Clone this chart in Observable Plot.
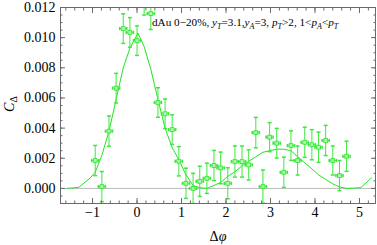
<!DOCTYPE html>
<html><head><meta charset="utf-8">
<script src="https://cdn.jsdelivr.net/npm/d3@7"></script>
<script src="https://cdn.jsdelivr.net/npm/@observablehq/plot@0.6"></script>
<style>body{margin:0;background:#fff}#chart{width:377px;height:245px}#chart svg text{font-family:"Liberation Serif",serif}</style>
</head><body><div id="chart"></div>
<script>
// data points: Δφ, C_Δ, error
const dphi = [-0.94,-0.79,-0.63,-0.47,-0.31,-0.16,0.00,0.16,0.31,0.47,0.63,0.79,0.94,1.10,1.26,1.41,1.57,1.73,1.88,2.04,2.20,2.36,2.51,2.67,2.83,2.98,3.14,3.30,3.46,3.61,3.77,3.93,4.08,4.24,4.40,4.55,4.71];
const cDelta = [0.00185,0.00012,0.0038,0.00665,0.0106,0.01035,0.0098,0.0125,0.0116,0.0057,0.00495,0.0039,0.0018,0.00034,0.0000,0.00047,0.00067,0.00152,0.00136,0.00034,0.00178,0.00178,0.00156,0.0037,0.00012,0.0034,0.0030,0.00107,0.00284,0.00185,0.00306,0.0029,0.00273,0.00318,0.00185,0.00085,0.00213];
const errY = [0.0010,0.0010,0.0010,0.00098,0.00098,0.00098,0.00098,0.0010,0.00106,0.00098,0.00098,0.00098,0.00097,0.0010,0.0010,0.0010,0.0010,0.0010,0.00105,0.00103,0.00103,0.00103,0.0010,0.00101,0.0011,0.00096,0.00098,0.0010,0.00098,0.00096,0.0010,0.0010,0.0010,0.0010,0.00096,0.0010,0.0010];
const errX = 0.08;
// model curve
const curveX = [-1.57,-1.31,-1.05,-0.94,-0.79,-0.63,-0.47,-0.31,-0.16,0.02,0.16,0.31,0.47,0.63,0.79,0.94,1.10,1.26,1.41,1.57,1.73,1.88,2.04,2.20,2.36,2.51,2.67,2.83,2.98,3.14,3.30,3.46,3.61,3.77,3.93,4.08,4.24,4.40,4.55,4.71,4.87,5.03,5.27];
const curveY = [0.0000,0.00007,0.0007,0.00107,0.0022,0.0038,0.0059,0.0080,0.0093,0.0103,0.0094,0.0079,0.0059,0.0040,0.0027,0.0019,0.0009,0.0002,0.00005,0.0000,0.0002,0.0004,0.0008,0.0011,0.0015,0.0018,0.0021,0.0024,0.0025,0.0026,0.0026,0.0025,0.0021,0.0017,0.0013,0.0009,0.0006,0.0003,0.0001,0.0000,0.00002,0.00005,0.0007];
const xTicks = [-1,0,1,2,3,4,5];
const yTicks = [0,0.002,0.004,0.006,0.008,0.010,0.012];
const xMinor = d3.range(-1.6,5.3,0.2);
const yMinor = d3.range(-0.001,0.0121,0.0005);

const pts = dphi.map((x,i)=>({x, y:cDelta[i], e:errY[i]}));
const curve = curveX.map((x,i)=>({x, y:curveY[i]}));

const lineGreen = "#1ee61e";
const barGreen = "#3de83d";
const frameCol = "#6a6a6a";
const hcap = {draw(c,s){const r=Math.sqrt(s/Math.PI);c.moveTo(-r,0);c.lineTo(r,0);}};
const vcap = {draw(c,s){const r=Math.sqrt(s/Math.PI);c.moveTo(0,-r);c.lineTo(0,r);}};
const font = "Liberation Serif, serif";

const plot = Plot.plot({
  width: 377, height: 245,
  marginLeft: 60, marginRight: 2, marginTop: 7, marginBottom: 42,
  x: {domain: [-1.72, 5.36], label: null},
  y: {domain: [-0.001, 0.012], label: null},
  style: {fontFamily: font, fontSize: "14px", background: "#fff", color: "#000"},
  marks: [
    Plot.ruleY([0], {stroke: "#bdbdbd", strokeWidth: 1}),
    Plot.line(curve, {x: "x", y: "y", stroke: lineGreen, strokeWidth: 1, clip: true}),
    Plot.ruleX(pts, {x: "x", y1: d=>d.y-d.e, y2: d=>d.y+d.e, stroke: barGreen, strokeWidth: 1, clip: true}),
    Plot.dot(pts, {x: "x", y: d=>d.y-d.e, symbol: hcap, r: 2, fill: "none", stroke: barGreen, clip: true}),
    Plot.dot(pts, {x: "x", y: d=>d.y+d.e, symbol: hcap, r: 2, fill: "none", stroke: barGreen, clip: true}),
    Plot.ruleY(pts, {y: "y", x1: d=>d.x-errX, x2: d=>d.x+errX, stroke: barGreen, strokeWidth: 1, clip: true}),
    Plot.dot(pts, {x: d=>d.x-errX, y: "y", symbol: vcap, r: 1.6, fill: "none", stroke: barGreen, clip: true}),
    Plot.dot(pts, {x: d=>d.x+errX, y: "y", symbol: vcap, r: 1.6, fill: "none", stroke: barGreen, clip: true}),
    Plot.dot(pts, {x: "x", y: "y", symbol: "square", r: 2.2, fill: "#b6f7b6", stroke: barGreen, strokeWidth: 1, clip: true}),
    Plot.frame({stroke: frameCol}),
    // inward major/minor ticks on all sides
    Plot.axisX(xTicks, {anchor: "bottom", tickSize: 5, dy: -5, fill: "none", stroke: frameCol, label: null}),
    Plot.axisX(xMinor, {anchor: "bottom", tickSize: 2.5, dy: -2.5, fill: "none", stroke: frameCol, label: null}),
    Plot.axisX(xTicks, {anchor: "top", tickSize: 5, dy: 5, fill: "none", stroke: frameCol, label: null}),
    Plot.axisX(xMinor, {anchor: "top", tickSize: 2.5, dy: 2.5, fill: "none", stroke: frameCol, label: null}),
    Plot.axisY(yTicks, {anchor: "left", tickSize: 5, dx: 5, fill: "none", stroke: frameCol, label: null}),
    Plot.axisY(yMinor, {anchor: "left", tickSize: 2.5, dx: 2.5, fill: "none", stroke: frameCol, label: null}),
    Plot.axisY(yTicks, {anchor: "right", tickSize: 5, dx: -5, fill: "none", stroke: frameCol, label: null}),
    Plot.axisY(yMinor, {anchor: "right", tickSize: 2.5, dx: -2.5, fill: "none", stroke: frameCol, label: null}),
    // tick labels
    Plot.axisX(xTicks, {anchor: "bottom", tickSize: 0, tickPadding: 4, fill: "#000", fontSize: 14, label: null}),
    Plot.axisY(yTicks, {anchor: "left", tickSize: 0, tickPadding: 5, fill: "#000", fontSize: 14, tickFormat: d3.format(".3f"), label: null})
  ]
});

const svg = d3.select(plot);
// x label Δφ
const xl = svg.append("text").attr("x", 218).attr("y", 241).attr("text-anchor", "middle")
  .attr("font-family", font).attr("font-size", 14).attr("fill", "#000");
xl.append("tspan").text("Δ");
xl.append("tspan").attr("font-style", "italic").text("φ");
// y label C_Δ
const yl = svg.append("text").attr("transform", "translate(14,104) rotate(-90)").attr("text-anchor", "middle")
  .attr("font-family", font).attr("font-size", 14).attr("fill", "#000");
yl.append("tspan").attr("font-style", "italic").text("C");
yl.append("tspan").attr("font-size", 10).attr("dy", 3).text("Δ");
// annotation
const ann = svg.append("text").attr("x", 152).attr("y", 26).attr("text-anchor", "start")
  .attr("font-family", font).attr("font-size", 11.2).attr("fill", "#000");
const parts = [["dAu 0−20%, ",0],["y",1],["T",2],["=3.1,",0],["y",1],["A",2],["=3, ",0],["p",1],["T",2],[">2, 1<",0],["p",1],["A",2],["<",0],["p",1],["T",2]];
let sub = false;
for (const [t,k] of parts) {
  const ts = ann.append("tspan").text(t);
  if (k===1) ts.attr("font-style","italic");
  if (k===2) { ts.attr("font-style","italic").attr("font-size",8).attr("dy",2.5); sub = true; }
  else if (sub) { ts.attr("dy",-2.5); sub = false; }
}
document.getElementById("chart").appendChild(plot);
</script>
</body></html>
